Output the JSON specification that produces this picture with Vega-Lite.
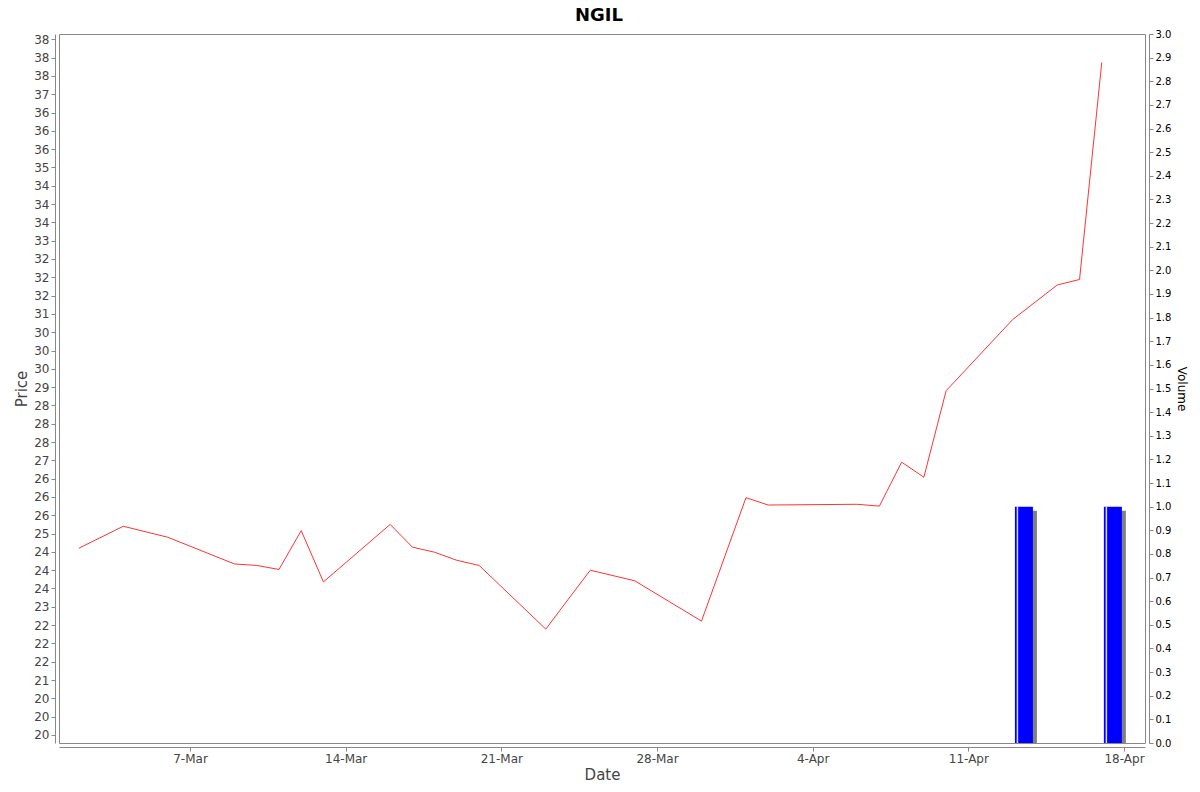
{
  "$schema": "https://vega.github.io/schema/vega-lite/v6.json",
  "autosize": "none",
  "width": 1086,
  "height": 709,
  "padding": {"left": 59, "top": 34, "right": 55, "bottom": 49},
  "background": "white",
  "title": {
    "text": "NGIL",
    "font": "DejaVu Sans",
    "fontSize": 18,
    "fontWeight": "bold",
    "color": "#000000",
    "anchor": "middle",
    "offset": 4,
    "dx": -3
  },
  "config": {
    "view": {"stroke": "#888888", "strokeWidth": 1},
    "axis": {
      "grid": false,
      "labelFont": "DejaVu Sans",
      "titleFont": "DejaVu Sans",
      "domainColor": "#888888",
      "tickColor": "#888888",
      "tickSize": 4,
      "offset": 4,
      "labelPadding": 2,
      "titleFontWeight": "normal"
    }
  },
  "data": {
    "values": [
      {"date": "2020-03-02", "price": 24.60, "volume": 0},
      {"date": "2020-03-04", "price": 25.20, "volume": 0},
      {"date": "2020-03-06", "price": 24.90, "volume": 0},
      {"date": "2020-03-09", "price": 24.17, "volume": 0},
      {"date": "2020-03-10", "price": 24.13, "volume": 0},
      {"date": "2020-03-11", "price": 24.02, "volume": 0},
      {"date": "2020-03-12", "price": 25.08, "volume": 0},
      {"date": "2020-03-13", "price": 23.68, "volume": 0},
      {"date": "2020-03-16", "price": 25.25, "volume": 0},
      {"date": "2020-03-17", "price": 24.63, "volume": 0},
      {"date": "2020-03-18", "price": 24.49, "volume": 0},
      {"date": "2020-03-19", "price": 24.27, "volume": 0},
      {"date": "2020-03-20", "price": 24.13, "volume": 0},
      {"date": "2020-03-23", "price": 22.39, "volume": 0},
      {"date": "2020-03-24", "price": 23.20, "volume": 0},
      {"date": "2020-03-25", "price": 24.00, "volume": 0},
      {"date": "2020-03-27", "price": 23.71, "volume": 0},
      {"date": "2020-03-30", "price": 22.61, "volume": 0},
      {"date": "2020-04-01", "price": 25.98, "volume": 0},
      {"date": "2020-04-02", "price": 25.78, "volume": 0},
      {"date": "2020-04-06", "price": 25.80, "volume": 0},
      {"date": "2020-04-07", "price": 25.75, "volume": 0},
      {"date": "2020-04-08", "price": 26.95, "volume": 0},
      {"date": "2020-04-09", "price": 26.54, "volume": 0},
      {"date": "2020-04-10", "price": 28.90, "volume": 0},
      {"date": "2020-04-13", "price": 30.85, "volume": 1},
      {"date": "2020-04-15", "price": 31.79, "volume": 0},
      {"date": "2020-04-16", "price": 31.94, "volume": 0},
      {"date": "2020-04-17", "price": 37.87, "volume": 1}
    ],
    "format": {"parse": {"date": "utc:'%Y-%m-%d'"}}
  },
  "encoding": {
    "x": {
      "field": "date",
      "type": "temporal",
      "title": "Date",
      "scale": {
        "type": "utc",
        "nice": false,
        "padding": 0,
        "domain": [
          {"year": 2020, "month": 3, "date": 1, "hours": 2, "minutes": 37, "utc": true},
          {"year": 2020, "month": 4, "date": 18, "hours": 22, "minutes": 39, "utc": true}
        ]
      },
      "axis": {
        "values": [
          {"year": 2020, "month": 3, "date": 7, "utc": true},
          {"year": 2020, "month": 3, "date": 14, "utc": true},
          {"year": 2020, "month": 3, "date": 21, "utc": true},
          {"year": 2020, "month": 3, "date": 28, "utc": true},
          {"year": 2020, "month": 4, "date": 4, "utc": true},
          {"year": 2020, "month": 4, "date": 11, "utc": true},
          {"year": 2020, "month": 4, "date": 18, "utc": true}
        ],
        "format": "%-d-%b",
        "labelFontSize": 12,
        "labelColor": "#444444",
        "titleFontSize": 15,
        "titleColor": "#444444",
        "titlePadding": 3
      }
    }
  },
  "layer": [
    {
      "mark": {"type": "line", "color": "#ff3333", "strokeWidth": 1, "clip": true},
      "encoding": {
        "y": {
          "field": "price",
          "type": "quantitative",
          "title": "Price",
          "scale": {"domain": [19.28, 38.645], "nice": false, "zero": false},
          "axis": {
            "orient": "left",
            "values": [19.5, 20, 20.5, 21, 21.5, 22, 22.5, 23, 23.5, 24, 24.5, 25, 25.5, 26, 26.5, 27, 27.5, 28, 28.5, 29, 29.5, 30, 30.5, 31, 31.5, 32, 32.5, 33, 33.5, 34, 34.5, 35, 35.5, 36, 36.5, 37, 37.5, 38, 38.5],
            "labelExpr": "(datum.value * 2) % 2 == 1 ? (floor(datum.value) % 2 == 0 ? floor(datum.value) : ceil(datum.value)) : round(datum.value)",
            "labelFontSize": 12,
            "labelColor": "#444444",
            "titleFontSize": 15,
            "titleColor": "#444444",
            "titlePadding": 4
          }
        }
      }
    },
    {
      "transform": [{"filter": "datum.volume > 0"}],
      "encoding": {
        "y": {
          "field": "volume",
          "type": "quantitative",
          "title": "Volume",
          "scale": {"domain": [0, 3], "nice": false},
          "axis": {
            "orient": "right",
            "values": [0, 0.1, 0.2, 0.3, 0.4, 0.5, 0.6, 0.7, 0.8, 0.9, 1, 1.1, 1.2, 1.3, 1.4, 1.5, 1.6, 1.7, 1.8, 1.9, 2, 2.1, 2.2, 2.3, 2.4, 2.5, 2.6, 2.7, 2.8, 2.9, 3],
            "format": ".1f",
            "labelFontSize": 10,
            "labelColor": "#000000",
            "titleFontSize": 12,
            "titleColor": "#000000",
            "titlePadding": 4
          }
        }
      },
      "layer": [
        {
          "mark": {"type": "bar", "width": 18, "xOffset": 15.1, "yOffset": 4, "color": "#808080", "clip": true}
        },
        {
          "mark": {"type": "bar", "width": 18, "xOffset": 11.1, "color": "#0000ff", "clip": true}
        },
        {
          "mark": {"type": "bar", "width": 1.5, "xOffset": 4.6, "color": "#ffffff", "opacity": 0.85, "clip": true}
        }
      ]
    }
  ],
  "resolve": {"scale": {"y": "independent"}, "axis": {"y": "independent"}}
}
